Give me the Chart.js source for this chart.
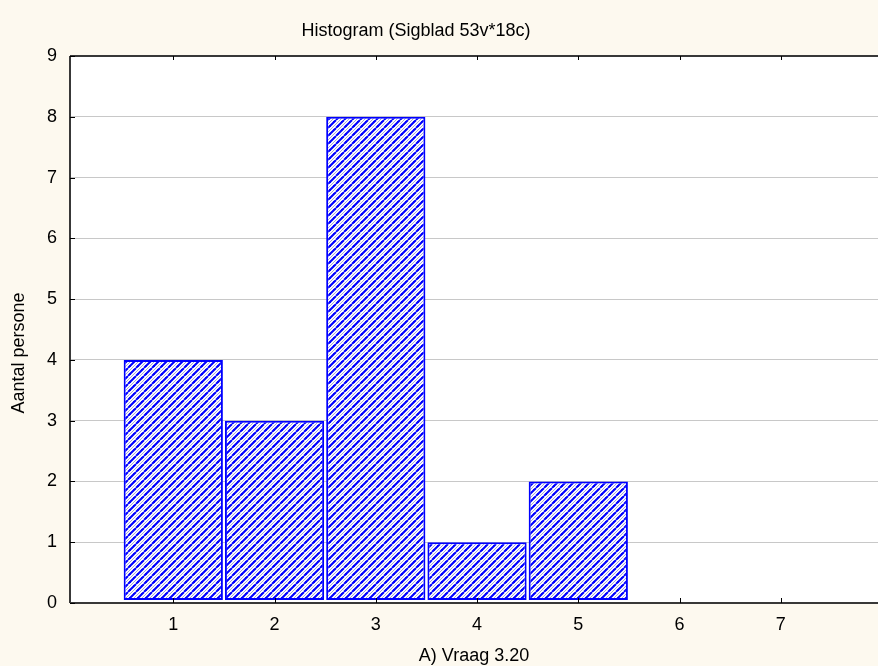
<!DOCTYPE html>
<html>
<head>
<meta charset="utf-8">
<script src="https://cdn.jsdelivr.net/npm/chart.js@4/dist/chart.umd.min.js"></script>
<style>
  html, body { margin: 0; padding: 0; background: #fdf9ef; }
  #wrap { width: 878px; height: 666px; }
</style>
</head>
<body>
<div id="wrap"><canvas id="histo" width="878" height="666"></canvas></div>
<script>
// data
const categories = [1, 2, 3, 4, 5];
const counts = [4, 3, 8, 1, 2];
const xTickLabels = [1, 2, 3, 4, 5, 6, 7];
const yTickLabels = [0, 1, 2, 3, 4, 5, 6, 7, 8, 9];

const titleText = "Histogram (Sigblad 53v*18c)";
const xTitle = "A) Vraag 3.20";
const yTitle = "Aantal persone";

const FONT = "'Liberation Sans', Arial, sans-serif";

// hatch fill like the old statistica pattern
function makeHatch() {
    const c = document.createElement("canvas");
    c.width = 8; c.height = 8;
    const g = c.getContext("2d");
    g.fillStyle = "#ffffff";
    g.fillRect(0, 0, 8, 8);
    g.strokeStyle = "#a8a8d0";
    g.lineWidth = 1;
    g.beginPath();
    g.moveTo(-4, 8); g.lineTo(4, 0);
    g.moveTo(4, 8); g.lineTo(12, 0);
    g.stroke();
    g.strokeStyle = "#0000ff";
    g.lineWidth = 2;
    g.beginPath();
    g.moveTo(0, 8); g.lineTo(8, 0);
    g.moveTo(-8, 8); g.lineTo(0, 0);
    g.moveTo(8, 8); g.lineTo(16, 0);
    g.stroke();
    g.fillStyle = "#0000ff";
    g.fillRect(1, 5, 2, 2);
    g.fillRect(5, 1, 1, 1);
    return g.createPattern(c, "repeat");
}

const framePlugin = {
    id: "frame",
    afterDraw(chart) {
        const { ctx, chartArea: a, scales } = chart;
        ctx.save();
        ctx.strokeStyle = "#383838";
        ctx.lineWidth = 2;
        ctx.beginPath();
        ctx.moveTo(a.left, a.top); ctx.lineTo(a.right, a.top);
        ctx.moveTo(a.left, a.top); ctx.lineTo(a.left, a.bottom);
        ctx.moveTo(a.left, a.bottom); ctx.lineTo(a.right, a.bottom);
        ctx.stroke();
        // inward tick marks
        ctx.lineWidth = 1;
        ctx.strokeStyle = "#000000";
        ctx.beginPath();
        xTickLabels.forEach(v => {
            const px = Math.round(scales.x.getPixelForValue(v)) + 0.5;
            ctx.moveTo(px, a.bottom); ctx.lineTo(px, a.bottom - 5);
            ctx.moveTo(px, a.top); ctx.lineTo(px, a.top + 4);
        });
        yTickLabels.forEach(v => {
            const py = Math.round(scales.y.getPixelForValue(v)) + 0.5;
            ctx.moveTo(a.left, py); ctx.lineTo(a.left + 5, py);
        });
        ctx.stroke();
        // texts
        ctx.fillStyle = "#000000";
        ctx.font = "18px " + FONT;
        ctx.textAlign = "center";
        ctx.textBaseline = "middle";
        ctx.fillText(titleText, 416, 31);
        ctx.fillText(xTitle, 474, 656);
        ctx.translate(19, 353);
        ctx.rotate(-Math.PI / 2);
        ctx.fillText(yTitle, 0, 0);
        ctx.restore();
    }
};

const plotBg = {
    id: "plotBg",
    beforeDraw(chart) {
        const { ctx, chartArea: a } = chart;
        ctx.save();
        ctx.fillStyle = "#ffffff";
        ctx.fillRect(a.left, a.top, a.right - a.left, a.bottom - a.top);
        ctx.restore();
    }
};

new Chart(document.getElementById("histo"), {
    type: "bar",
    data: {
        datasets: [{
            data: categories.map((c, i) => ({ x: c, y: counts[i] })),
            backgroundColor: makeHatch(),
            borderColor: "#0000ff",
            borderWidth: 2,
            borderSkipped: false,
            base: 0.05,
            barPercentage: 0.98,
            categoryPercentage: 1.0
        }]
    },
    options: {
        responsive: false,
        animation: false,
        layout: { padding: { top: 56, left: 0, right: 0, bottom: 0 } },
        plugins: {
            legend: { display: false },
            title: { display: false },
            tooltip: { enabled: false }
        },
        scales: {
            x: {
                type: "linear",
                offset: false,
                min: -0.02,
                max: 7.96,
                afterFit: s => { s.height = 63; },
                afterBuildTicks: s => { s.ticks = xTickLabels.map(v => ({ value: v })); },
                grid: { display: false, offset: false },
                border: { display: false },
                ticks: {
                    color: "#000000",
                    padding: 3,
                    font: { family: FONT, size: 18 }
                }
            },
            y: {
                min: 0,
                max: 9,
                afterFit: s => { s.width = 70; },
                afterBuildTicks: s => { s.ticks = yTickLabels.map(v => ({ value: v })); },
                grid: { color: "#c8c8c8", lineWidth: 1, drawTicks: false },
                border: { display: false },
                ticks: {
                    color: "#000000",
                    padding: 13,
                    font: { family: FONT, size: 18 }
                }
            }
        }
    },
    plugins: [plotBg, framePlugin]
});
</script>
</body>
</html>
